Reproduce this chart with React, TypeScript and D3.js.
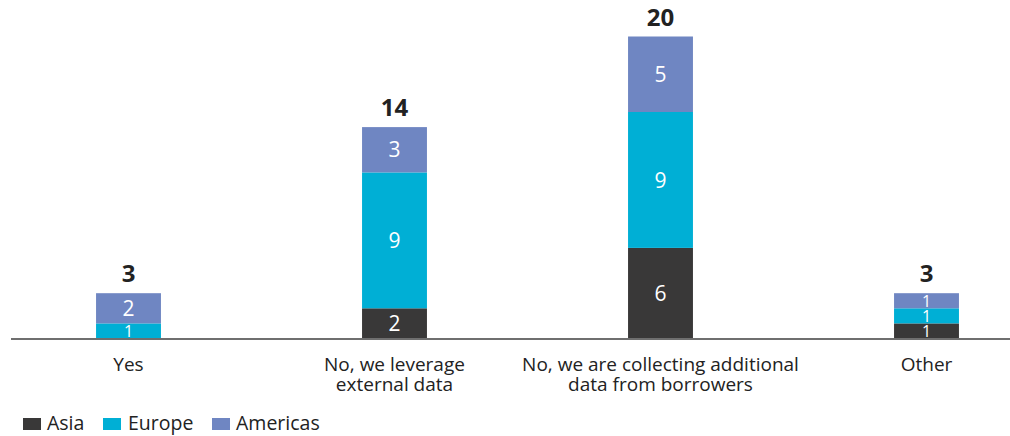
import React from "react";
import * as d3 from "d3";

const categories = [
  ["Yes"],
  ["No, we leverage", "external data"],
  ["No, we are collecting additional", "data from borrowers"],
  ["Other"],
];
const seriesNames = ["Asia", "Europe", "Americas"];
const asia = [0, 2, 6, 1];
const europe = [1, 9, 9, 1];
const americas = [2, 3, 5, 1];
const colors = ["#393838", "#00afd5", "#6f86c2"];

const W = 1010;
const H = 436;
const FONT = "'Open Sans', sans-serif";

export default function App() {
  const idx = categories.map((_, i) => i);
  const x = d3
    .scaleBand<number>()
    .domain(idx)
    .range([-4.5, 1059.5])
    .paddingInner(0.756)
    .paddingOuter(0.378);
  const y = d3.scaleLinear().domain([0, 20]).range([338.5, 36.5]);

  const rows = idx.map((i) => ({ i, Asia: asia[i], Europe: europe[i], Americas: americas[i] }));
  const stack = d3.stack<any>().keys(seriesNames)(rows);
  const totals = idx.map((i) => asia[i] + europe[i] + americas[i]);

  const legendItems = [
    { name: "Asia", sx: 23, tx: 47 },
    { name: "Europe", sx: 103, tx: 128 },
    { name: "Americas", sx: 212, tx: 236 },
  ];

  return (
    <svg
      width={W}
      height={H}
      style={{ position: "absolute", left: 0, top: 0, background: "#fff" }}
      fontFamily={FONT}
    >
      {stack.map((layer, si) => (
        <g key={seriesNames[si]} fill={colors[si]}>
          {layer.map((d, i) => {
            const v = d[1] - d[0];
            if (v <= 0) return null;
            const bx = x(i)!;
            const bw = x.bandwidth();
            const y0 = y(d[0]);
            const y1 = y(d[1]);
            const small = y0 - y1 < 20;
            return (
              <g key={i}>
                <rect x={bx} y={y1} width={bw} height={y0 - y1} />
                <text
                  x={bx + bw / 2}
                  y={(y0 + y1) / 2}
                  dy="0.36em"
                  textAnchor="middle"
                  fill="#fff"
                  fontSize={small ? 16 : 21}
                >
                  {v}
                </text>
              </g>
            );
          })}
        </g>
      ))}
      <line x1={11} x2={1010} y1={339} y2={339} stroke="#6f6f6f" strokeWidth={2} />
      {idx.map((i) => (
        <text
          key={"t" + i}
          x={x(i)! + x.bandwidth() / 2}
          y={y(totals[i]) - 11}
          textAnchor="middle"
          fontSize={24}
          fontWeight={700}
          fill="#222"
        >
          {totals[i]}
        </text>
      ))}
      {categories.map((lines, i) => (
        <text
          key={"c" + i}
          x={x(i)! + x.bandwidth() / 2}
          y={371}
          textAnchor="middle"
          fontSize={19}
          fill="#222"
        >
          {lines.map((l, li) => (
            <tspan key={li} x={x(i)! + x.bandwidth() / 2} dy={li === 0 ? 0 : 20}>
              {l}
            </tspan>
          ))}
        </text>
      ))}
      {legendItems.map((it, i) => (
        <g key={it.name}>
          <rect x={it.sx} y={418} width={18} height={12} fill={colors[i]} />
          <text x={it.tx} y={430} fontSize={19.5} fill="#222">
            {it.name}
          </text>
        </g>
      ))}
    </svg>
  );
}
